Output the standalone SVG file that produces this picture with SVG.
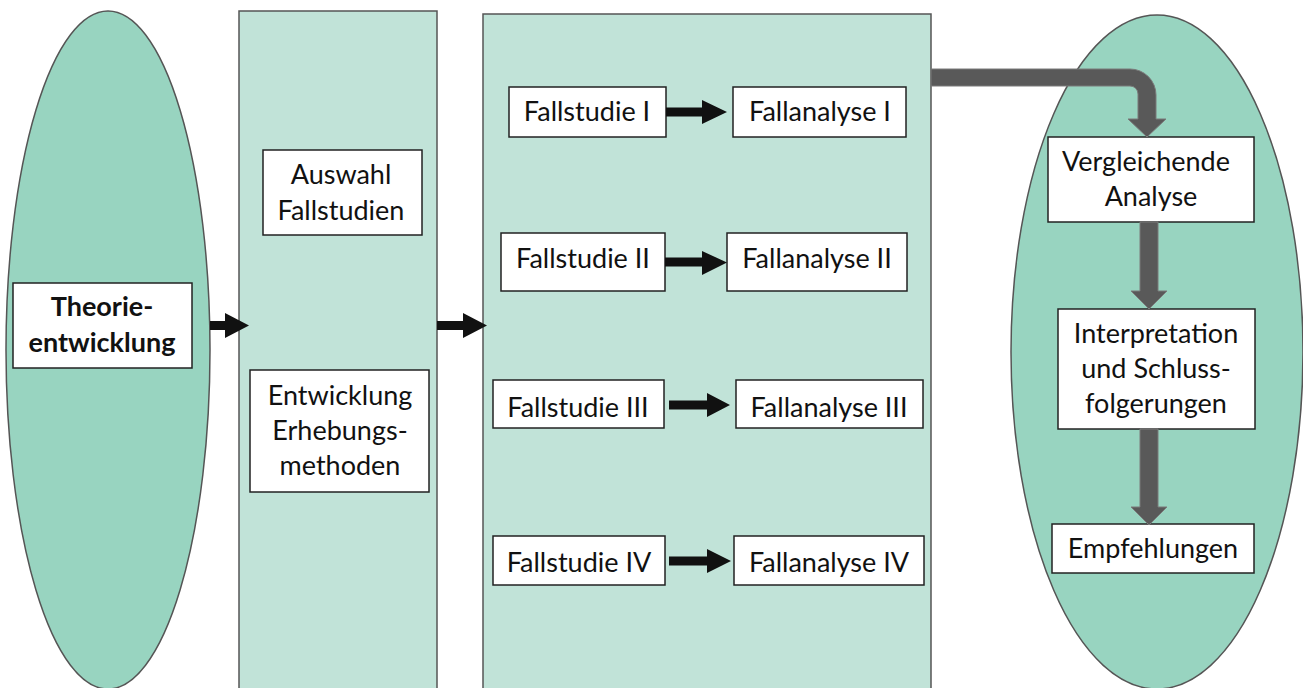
<svg xmlns="http://www.w3.org/2000/svg" width="1303" height="688" viewBox="0 0 1303 688">
<style>
.ell{fill:#98D4C0;stroke:#555;stroke-width:1.5}
.col{fill:#C1E3D8;stroke:#555;stroke-width:1.5}
.box{fill:#fff;stroke:#222;stroke-width:1.5}
.t{font-family:Lato,"Open Sans",sans-serif;font-size:27px;fill:#111;text-anchor:middle}
.b{font-weight:bold}
.blk{fill:#111}
.gry{fill:#595959;stroke:#7a7a7a;stroke-width:1}
</style>
<g id="theorie">
<ellipse class="ell" cx="108" cy="350" rx="102" ry="339"/>
<rect class="box" x="13" y="283" width="179" height="85"/>
<text class="t b" x="102" y="316">Theorie-</text>
<text class="t b" x="102" y="352">entwicklung</text>
</g>
<g id="vorbereitung">
<rect class="col" x="239" y="11" width="198" height="690"/>
</g>
<g id="auswahl">
<rect class="box" x="263" y="150" width="159" height="85"/>
<text class="t" x="341" y="184">Auswahl</text>
<text class="t" x="341" y="220">Fallstudien</text>
</g>
<g id="erhebung">
<rect class="box" x="250" y="370" width="179" height="122"/>
<text class="t" x="340" y="405">Entwicklung</text>
<text class="t" x="340" y="440">Erhebungs-</text>
<text class="t" x="340" y="475">methoden</text>
</g>
<g id="faelle">
<rect class="col" x="483" y="14" width="448" height="690"/>
</g>
<g id="fs1"><rect class="box" x="509" y="87" width="157" height="50"/><text class="t" x="587" y="121">Fallstudie I</text></g>
<g id="fa1"><rect class="box" x="733" y="87" width="173" height="50"/><text class="t" x="820" y="121">Fallanalyse I</text></g>
<g id="fs2"><rect class="box" x="501" y="233" width="164" height="58"/><text class="t" x="583" y="268">Fallstudie II</text></g>
<g id="fa2"><rect class="box" x="727" y="233" width="180" height="58"/><text class="t" x="817" y="268">Fallanalyse II</text></g>
<g id="fs3"><rect class="box" x="493" y="380" width="171" height="48"/><text class="t" x="578" y="417">Fallstudie III</text></g>
<g id="fa3"><rect class="box" x="736" y="380" width="187" height="48"/><text class="t" x="829" y="417">Fallanalyse III</text></g>
<g id="fs4"><rect class="box" x="493" y="536" width="172" height="49"/><text class="t" x="579" y="572">Fallstudie IV</text></g>
<g id="fa4"><rect class="box" x="734" y="536" width="190" height="49"/><text class="t" x="829" y="572">Fallanalyse IV</text></g>
<g id="synthese">
<ellipse class="ell" cx="1157" cy="352" rx="146" ry="337"/>
</g>
<g id="vergleich">
<rect class="box" x="1048" y="137" width="206" height="85"/>
<text class="t" x="1146" y="171">Vergleichende</text>
<text class="t" x="1151" y="206">Analyse</text>
</g>
<g id="interpretation">
<rect class="box" x="1058" y="309" width="197" height="120"/>
<text class="t" x="1156" y="343">Interpretation</text>
<text class="t" x="1156" y="378">und Schluss-</text>
<text class="t" x="1156" y="413">folgerungen</text>
</g>
<g id="empfehlungen">
<rect class="box" x="1052" y="524" width="202" height="49"/>
<text class="t" x="1153" y="558">Empfehlungen</text>
</g>
<g id="connectors">
<path class="blk" d="M210,321 L225,321 L225,313 L249,325.5 L225,338 L225,330 L210,330 Z"/>
<path class="blk" d="M437,321 L463,321 L463,313 L487,325.5 L463,338 L463,330 L437,330 Z"/>
<path class="blk" d="M666,107.5 L702,107.5 L702,100 L727,112 L702,124 L702,116.5 L666,116.5 Z"/>
<path class="blk" d="M665,257.5 L702,257.5 L702,251 L727,262.5 L702,275 L702,266.5 L665,266.5 Z"/>
<path class="blk" d="M669,400.5 L707,400.5 L707,393 L730,405 L707,417 L707,409.5 L669,409.5 Z"/>
<path class="blk" d="M669,556.5 L707,556.5 L707,549 L731,561 L707,573 L707,565.5 L669,565.5 Z"/>
<path class="gry" d="M931,69 L1130,69 A26,26 0 0 1 1156,95 L1156,119 L1166,119 L1147,137 L1128,119 L1138,119 L1138,94 A8,8 0 0 0 1130,86 L931,86 Z"/>
<path class="gry" d="M1140,222 L1158,222 L1158,291 L1167,291 L1149,309 L1131,291 L1140,291 Z"/>
<path class="gry" d="M1140,429 L1158,429 L1158,507 L1167,507 L1149,525 L1131,507 L1140,507 Z"/>
</g>
</svg>
